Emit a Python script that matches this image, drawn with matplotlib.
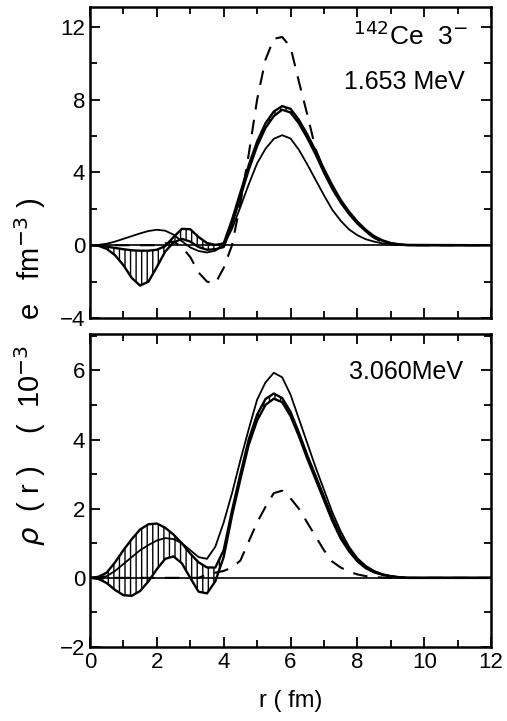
import numpy as np
import matplotlib
matplotlib.use('Agg')
import matplotlib.pyplot as plt
from matplotlib.ticker import MultipleLocator

plt.rcParams['font.family'] = ['Liberation Sans', 'DejaVu Sans']
plt.rcParams['hatch.linewidth'] = 1.0

# radius grid (fm)
r = [0.0, 0.25, 0.5, 0.75, 1.0, 1.25, 1.5, 1.75, 2.0, 2.25, 2.5, 2.75, 3.0, 3.25, 3.5, 3.75,
     4.0, 4.25, 4.5, 4.75, 5.0, 5.25, 5.5, 5.75, 6.0, 6.25, 6.5, 6.75, 7.0, 7.25, 7.5, 7.75,
     8.0, 8.25, 8.5, 8.75, 9.0, 9.25, 9.5, 12.0]

# 1.653 MeV state (top panel)
top_band_hi = [0, -0.02, -0.08, -0.15, -0.22, -0.28, -0.3, -0.3, -0.25, -0.05, 0.45, 0.9, 0.88, 0.45, 0.12, 0.02,
               0.1, 1.4, 2.9, 4.4, 5.7, 6.7, 7.35, 7.65, 7.5, 6.9, 6.1, 5.2, 4.2, 3.3, 2.5, 1.85,
               1.3, 0.85, 0.5, 0.27, 0.12, 0.05, 0.01, 0]
top_band_lo = [0, -0.03, -0.2, -0.55, -1.1, -1.8, -2.22, -2.0, -1.2, -0.35, 0.15, 0.35, 0.2, -0.1, -0.25, -0.22,
               -0.1, 1.15, 2.65, 4.15, 5.45, 6.45, 7.1, 7.45, 7.3, 6.7, 5.9, 5.0, 4.0, 3.1, 2.35, 1.72,
               1.2, 0.77, 0.45, 0.24, 0.1, 0.04, 0.01, 0]
top_thin = [0, 0.02, 0.08, 0.2, 0.35, 0.5, 0.65, 0.78, 0.85, 0.8, 0.58, 0.22, -0.12, -0.32, -0.4, -0.3,
            0.0, 0.9, 2.1, 3.35, 4.5, 5.3, 5.85, 6.05, 5.87, 5.25, 4.45, 3.6, 2.75, 1.95, 1.35, 0.87,
            0.55, 0.33, 0.2, 0.1, 0.04, 0.01, 0, 0]
top_dash = [0, 0, 0, 0, 0, 0, 0, 0, 0, 0.1, 0.2, -0.1, -0.65, -1.5, -2.0, -2.1,
            -1.25, 0.0, 2.3, 5.0, 8.0, 10.2, 11.35, 11.45, 10.9, 9.0, 7.2, 5.3, 4.1, 3.2, 2.45, 1.78,
            1.2, 0.75, 0.4, 0.18, 0.06, 0.02, 0, 0]

# 3.060 MeV state (bottom panel)
bot_band_hi = [0, 0.03, 0.15, 0.45, 0.8, 1.12, 1.4, 1.55, 1.57, 1.45, 1.25, 1.0, 0.7, 0.45, 0.3, 0.3,
               0.8, 1.95, 3.0, 4.0, 4.72, 5.17, 5.33, 5.2, 4.8, 4.2, 3.55, 2.95, 2.35, 1.75, 1.22, 0.83,
               0.52, 0.32, 0.19, 0.1, 0.05, 0.02, 0, 0]
bot_band_lo = [0, -0.03, -0.15, -0.35, -0.5, -0.52, -0.38, -0.1, 0.25, 0.55, 0.62, 0.42, 0.0, -0.4, -0.45, -0.1,
               0.6, 1.8, 2.85, 3.85, 4.55, 5.0, 5.18, 5.08, 4.68, 4.1, 3.45, 2.85, 2.25, 1.65, 1.14, 0.77,
               0.48, 0.28, 0.16, 0.09, 0.04, 0.01, 0, 0]
bot_thin = [0, 0.01, 0.05, 0.2, 0.4, 0.6, 0.8, 0.95, 1.08, 1.15, 1.12, 1.0, 0.8, 0.6, 0.55, 0.9,
            1.6, 2.45, 3.4, 4.3, 5.15, 5.65, 5.93, 5.8, 5.3, 4.6, 3.9, 3.2, 2.55, 1.9, 1.35, 0.9,
            0.57, 0.35, 0.2, 0.1, 0.05, 0.02, 0, 0]
bot_dash = [0, 0, 0, 0, 0, 0, 0, 0, 0, 0, 0, 0, 0, 0, 0.1, 0.15,
            0.2, 0.3, 0.5, 1.05, 1.6, 2.05, 2.45, 2.52, 2.3, 2.0, 1.6, 1.2, 0.8, 0.47, 0.3, 0.18,
            0.1, 0.05, 0.02, 0.01, 0, 0, 0, 0]

fig = plt.figure(figsize=(5.07, 7.21), dpi=100)
ax1 = fig.add_axes([0.1775, 0.559, 0.791, 0.4313])
ax2 = fig.add_axes([0.1775, 0.1026, 0.791, 0.4341])


def draw_panel(ax, band_hi, band_lo, thin, dash):
    ax.axhline(0, color='black', lw=1.2, zorder=1)
    ax.fill_between(r, band_hi, band_lo, facecolor='none', edgecolor='black', hatch='|||', linewidth=0)
    ax.plot(r, band_hi, color='black', lw=1.7)
    ax.plot(r, band_lo, color='black', lw=1.7)
    ax.plot(r, thin, color='black', lw=1.3)
    ax.plot(r, dash, color='black', lw=1.5, dashes=(7, 5))
    ax.set_xlim(0, 12)
    ax.xaxis.set_major_locator(MultipleLocator(2))
    ax.xaxis.set_minor_locator(MultipleLocator(1))
    ax.tick_params(which='both', direction='in', top=True, right=True, width=1.3, labelsize=16)
    ax.tick_params(which='major', length=7)
    ax.tick_params(which='minor', length=5)
    for s in ax.spines.values():
        s.set_linewidth(1.8)


draw_panel(ax1, top_band_hi, top_band_lo, top_thin, top_dash)
ax1.set_ylim(-4, 13.1)
ax1.yaxis.set_major_locator(MultipleLocator(4))
ax1.yaxis.set_minor_locator(MultipleLocator(2))
ax1.tick_params(labelbottom=False)
ax1.text(11.3, 11.5, '$^{142}$Ce  3$^{-}$', fontsize=19, ha='right', va='center')
ax1.text(11.2, 8.95, '1.653 MeV', fontsize=18, ha='right', va='center')

draw_panel(ax2, bot_band_hi, bot_band_lo, bot_thin, bot_dash)
ax2.set_ylim(-2, 7.05)
ax2.yaxis.set_major_locator(MultipleLocator(2))
ax2.yaxis.set_minor_locator(MultipleLocator(1))
ax2.text(11.17, 5.95, '3.060MeV', fontsize=18, ha='right', va='center')
ax2.set_xlabel('r ( fm)', fontsize=17, labelpad=12)

fig.text(0.06, 0.484, r'$\rho$  ( r )    (  10$^{-3}$   e   fm$^{-3}$ )', fontsize=21, rotation=90,
         ha='center', va='center')

fig.savefig('out.png', dpi=100)
